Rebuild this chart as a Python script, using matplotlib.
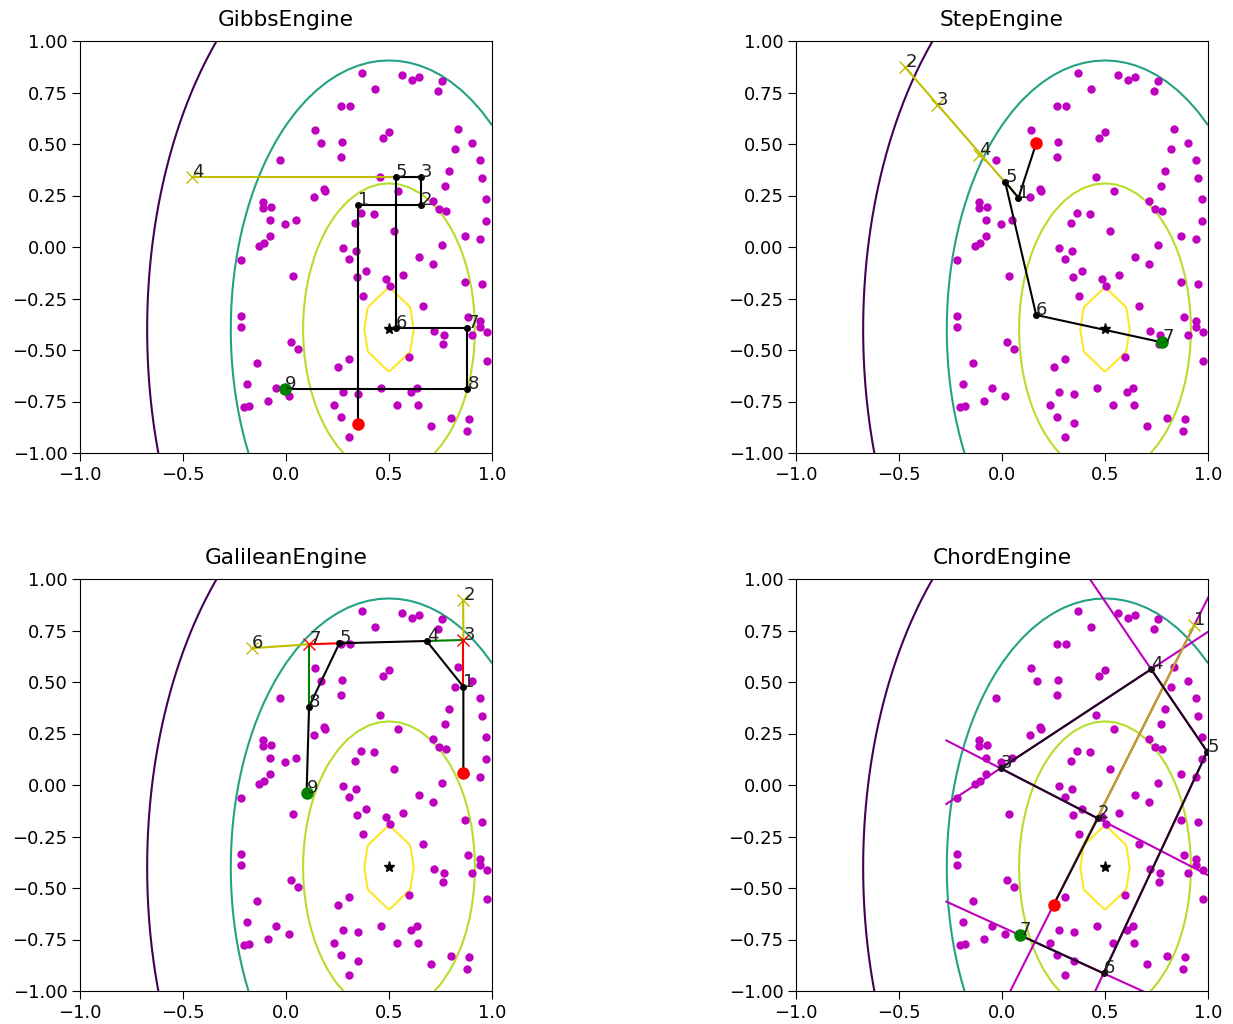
import numpy as np
import matplotlib
matplotlib.use('Agg')
from matplotlib import pyplot as plt

plt.rcParams['font.size'] = 13
plt.rcParams['xtick.major.size'] = 5.5
plt.rcParams['ytick.major.size'] = 5.5

# live points (same set in all four panels)
px = [0.369, 0.433, 0.565, 0.610, 0.648, 0.757, 0.738,
      0.266, 0.310, 0.140, 0.168, 0.473, 0.498, 0.270, 0.265,
      0.836, 0.905, 0.822, 0.941, -0.028, 0.790, 0.950, 0.770, 0.971,
      0.458, 0.712, 0.742, 0.778, 0.363, 0.427, 0.970, 0.868, 0.941, 0.757,
      0.336, 0.523, -0.113, -0.110, -0.072, -0.080, -0.006, 0.048, -0.078, -0.129, -0.105,
      0.136, 0.183, 0.191,
      -0.217, 0.033, 0.279, 0.342, 0.306, 0.388, 0.343, 0.485, 0.570, 0.648, 0.712, 0.868, 0.950,
      0.373, 0.666, -0.219, -0.217, 0.884, 0.942, 0.943, 0.977, 0.719, 0.769, 0.764, 0.905,
      0.025, 0.059, 0.595, 0.977, -0.139, 0.305, 0.254,
      -0.190, -0.050, 0.015, -0.085, -0.203, -0.179, 0.349, 0.459, 0.606, 0.634, 0.537, 0.639,
      0.233, 0.266, 0.305, 0.706, 0.802, 0.886, 0.878,
      0.276, 0.350, 0.506, 0.545]
py = [0.845, 0.766, 0.837, 0.811, 0.824, 0.805, 0.755,
      0.683, 0.683, 0.568, 0.503, 0.528, 0.558, 0.509, 0.436,
      0.574, 0.503, 0.477, 0.424, 0.424, 0.371, 0.333, 0.294, 0.235,
      0.339, 0.225, 0.184, 0.177, 0.164, 0.162, 0.126, 0.054, 0.041, 0.008,
      0.117, 0.080, 0.218, 0.189, 0.195, 0.131, 0.113, 0.131, 0.053, 0.007, 0.019,
      0.243, 0.282, 0.272,
      -0.062, -0.141, -0.005, -0.017, -0.057, -0.115, -0.148, -0.154, -0.135, -0.050, -0.084, -0.168, -0.181,
      -0.239, -0.284, -0.336, -0.389, -0.340, -0.361, -0.387, -0.414, -0.407, -0.426, -0.472, -0.426,
      -0.459, -0.493, -0.532, -0.551, -0.563, -0.544, -0.584,
      -0.667, -0.686, -0.725, -0.746, -0.777, -0.771, -0.714, -0.686, -0.702, -0.685, -0.766, -0.766,
      -0.765, -0.824, -0.922, -0.867, -0.830, -0.836, -0.895,
      -0.702, -0.855, -0.190, 0.272]

# likelihood contours: centre, y/x axis ratio, levels
x0, y0 = 0.5, -0.4
yscale = 1.7
levels = [0.12, 0.417, 0.768, 1.174]
lcolors = ['#fde725', '#b5de2b', '#23a184', '#440154']

xticks = [-1.0, -0.5, 0.0, 0.5, 1.0]
yticks = [-1.0, -0.75, -0.5, -0.25, 0.0, 0.25, 0.5, 0.75, 1.0]

# GibbsEngine
gibbs_start = (0.35, -0.86)
gibbs_x = [0.350, 0.654, 0.654, -0.454, 0.534, 0.534, 0.880, 0.880, -0.004]
gibbs_y = [0.203, 0.203, 0.339, 0.339, 0.339, -0.392, -0.392, -0.689, -0.689]

# StepEngine
step_start = (0.166, 0.503)
step_x = [0.080, -0.470, -0.315, -0.110, 0.015, 0.166, 0.778]
step_y = [0.239, 0.872, 0.689, 0.448, 0.317, -0.330, -0.463]

# GalileanEngine
gal_start = (0.861, 0.057)
gal_x = [0.861, 0.860, 0.861, 0.683, 0.259, -0.167, 0.112, 0.112, 0.100]
gal_y = [0.477, 0.898, 0.704, 0.699, 0.688, 0.664, 0.683, 0.380, -0.037]

# ChordEngine
chord_start = (0.25, -0.583)
chord_x = [0.934, 0.465, -0.007, 0.724, 0.996, 0.493, 0.085]
chord_y = [0.777, -0.162, 0.081, 0.562, 0.162, -0.914, -0.728]
chord_xrange = [-0.27, 1.5]   # chords are drawn over this x range


def field(n):
    g = np.linspace(-1, 1, n)
    X, Y = np.meshgrid(g, g)
    return X, Y, np.sqrt((X - x0)**2 + ((Y - y0) / yscale)**2)


def base(ax, title):
    # coarse grid for the inner contour, finer for the outer ones
    X, Y, R = field(21)
    ax.contour(X, Y, R, levels=levels[:1], colors=lcolors[:1], linewidths=1.5)
    X, Y, R = field(41)
    ax.contour(X, Y, R, levels=levels[1:], colors=lcolors[1:], linewidths=1.5)
    ax.plot(px, py, 'm.', ms=10, zorder=2)
    ax.plot(x0, y0, 'k*', ms=8, zorder=6)
    ax.set_xlim(-1, 1)
    ax.set_ylim(-1, 1)
    ax.set_xticks(xticks)
    ax.set_yticks(yticks)
    ax.set_title(title, pad=11)


def labels(ax, xs, ys):
    for i in range(len(xs)):
        ax.text(xs[i], ys[i], str(i + 1), color='#222222', zorder=8)


def seg(ax, xs, ys, i, j, c):
    ax.plot([xs[i], xs[j]], [ys[i], ys[j]], '-', color=c, lw=1.5, zorder=3)


fig = plt.figure(figsize=(12.33, 10.24), dpi=100)
W, H = 1233.0, 1024.0
pos = [(80, 453), (796, 453), (80, 991), (796, 991)]
axs = [fig.add_axes([l / W, 1 - b / H, 412 / W, 412 / H]) for l, b in pos]

# GibbsEngine
ax = axs[0]
base(ax, 'GibbsEngine')
gx, gy = gibbs_x, gibbs_y
seg(ax, gx, gy, 2, 3, 'y')
path = [0, 1, 2, 4, 5, 6, 7, 8]
ax.plot([gibbs_start[0]] + [gx[i] for i in path], [gibbs_start[1]] + [gy[i] for i in path],
        'k.-', ms=8, lw=1.5, zorder=4)
ax.plot(gx[3], gy[3], 'yx', ms=8, zorder=5)
ax.plot(*gibbs_start, 'ro', ms=8, zorder=6)
ax.plot(gx[-1], gy[-1], 'go', ms=8, zorder=6)
labels(ax, gx, gy)

# StepEngine
ax = axs[1]
base(ax, 'StepEngine')
sx, sy = step_x, step_y
seg(ax, sx, sy, 0, 1, 'y')
path = [0, 4, 5, 6]
ax.plot([step_start[0]] + [sx[i] for i in path], [step_start[1]] + [sy[i] for i in path],
        'k.-', ms=8, lw=1.5, zorder=4)
ax.plot(sx[1:4], sy[1:4], 'yx', ms=8, ls='none', zorder=5)
ax.plot(*step_start, 'ro', ms=8, zorder=6)
ax.plot(sx[-1], sy[-1], 'go', ms=8, zorder=6)
labels(ax, sx, sy)

# GalileanEngine
ax = axs[2]
base(ax, 'GalileanEngine')
ax_, ay_ = gal_x, gal_y
path = [0, 3, 4, 7, 8]
ax.plot([gal_start[0]] + [ax_[i] for i in path], [gal_start[1]] + [ay_[i] for i in path],
        'k.-', ms=8, lw=1.5, zorder=4)
seg(ax, ax_, ay_, 0, 2, 'r')
seg(ax, ax_, ay_, 2, 1, 'y')
seg(ax, ax_, ay_, 2, 3, 'g')
seg(ax, ax_, ay_, 4, 6, 'r')
seg(ax, ax_, ay_, 6, 5, 'y')
seg(ax, ax_, ay_, 6, 7, 'g')
ax.plot([ax_[1], ax_[5]], [ay_[1], ay_[5]], 'yx', ms=8, ls='none', zorder=5)
ax.plot([ax_[2], ax_[6]], [ay_[2], ay_[6]], 'rx', ms=8, ls='none', zorder=5)
ax.plot(*gal_start, 'ro', ms=8, zorder=6)
ax.plot(ax_[-1], ay_[-1], 'go', ms=8, zorder=6)
labels(ax, ax_, ay_)

# ChordEngine
ax = axs[3]
base(ax, 'ChordEngine')
cx, cy = chord_x, chord_y
allx = [chord_start[0]] + cx
ally = [chord_start[1]] + cy
for i, j in [(0, 1), (2, 3), (3, 4), (4, 5), (5, 6), (6, 7)]:
    slope = (ally[j] - ally[i]) / (allx[j] - allx[i])
    ex = np.array(chord_xrange)
    ax.plot(ex, ally[i] + slope * (ex - allx[i]), color='m', lw=1.5, zorder=2.5)
ax.plot([chord_start[0], cx[0]], [chord_start[1], cy[0]], '-', color='#b8a818', lw=1.5, zorder=3)
path = [1, 2, 3, 4, 5, 6]
ax.plot([chord_start[0]] + [cx[i] for i in path], [chord_start[1]] + [cy[i] for i in path],
        '.-', ms=8, lw=1.5, zorder=4, color='#1a0a1a')
ax.plot(cx[0], cy[0], 'yx', ms=8, zorder=5)
ax.plot(*chord_start, 'ro', ms=8, zorder=6)
ax.plot(cx[-1], cy[-1], 'go', ms=8, zorder=6)
ax.set_xlim(-1, 1)
ax.set_ylim(-1, 1)
labels(ax, cx, cy)

fig.savefig('out.png', dpi=100)
